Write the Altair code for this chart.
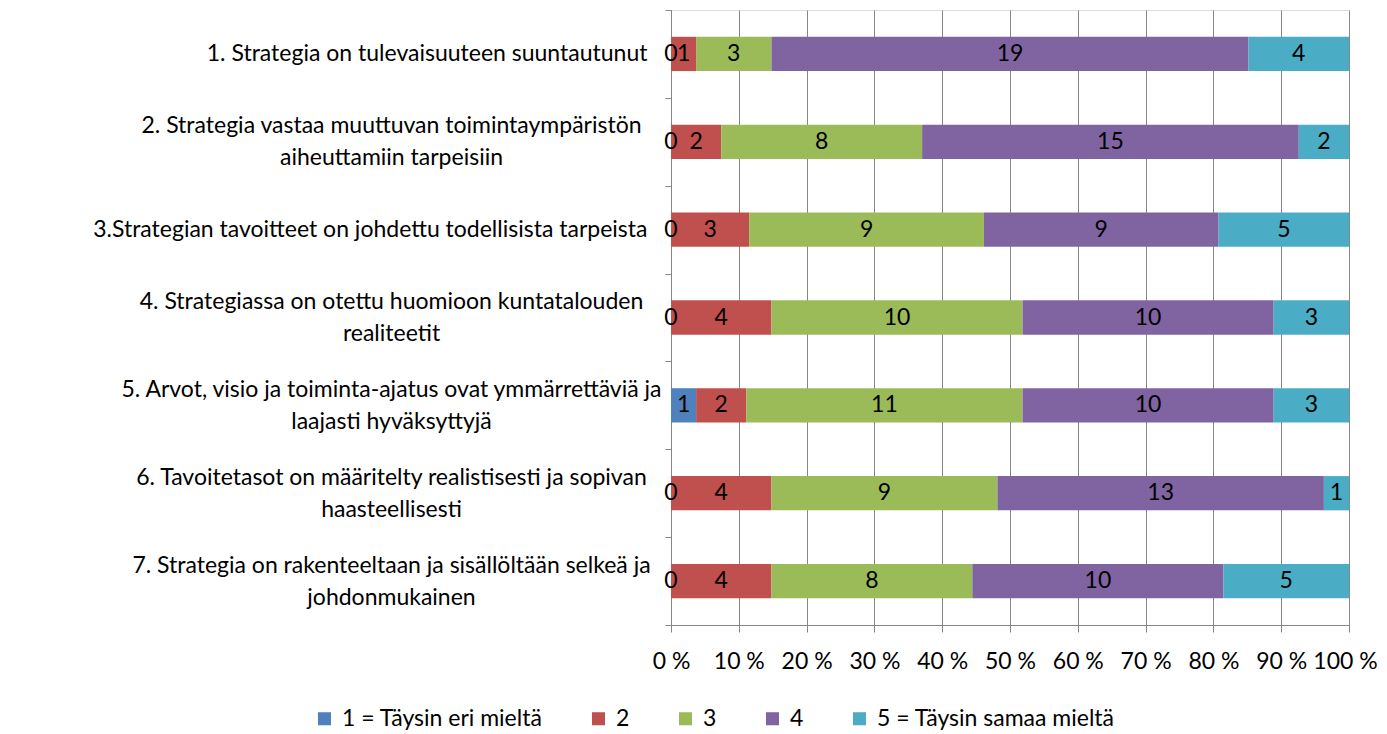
import altair as alt
import pandas as pd

categories = [
    "1. Strategia on tulevaisuuteen suuntautunut",
    "2. Strategia vastaa muuttuvan toimintaympäristön|aiheuttamiin tarpeisiin",
    "3.Strategian tavoitteet on johdettu todellisista tarpeista",
    "4. Strategiassa on otettu huomioon kuntatalouden|realiteetit",
    "5. Arvot, visio ja toiminta-ajatus ovat ymmärrettäviä ja|laajasti hyväksyttyjä",
    "6. Tavoitetasot on määritelty realistisesti ja sopivan|haasteellisesti",
    "7. Strategia on rakenteeltaan ja sisällöltään selkeä ja|johdonmukainen",
]
series = ["1 = Täysin eri mieltä", "2", "3", "4", "5 = Täysin samaa mieltä"]
s1 = [0, 0, 0, 0, 1, 0, 0]
s2 = [1, 2, 3, 4, 2, 4, 4]
s3 = [3, 8, 9, 10, 11, 9, 8]
s4 = [19, 15, 9, 10, 10, 13, 10]
s5 = [4, 2, 5, 3, 3, 1, 5]
colors = ["#4F81BD", "#C0504D", "#9BBB59", "#8064A2", "#4BACC6"]
x_ticks = [0, 0.1, 0.2, 0.3, 0.4, 0.5, 0.6, 0.7, 0.8, 0.9, 1.0]

rows = []
for si, (name, vals) in enumerate(zip(series, [s1, s2, s3, s4, s5])):
    for cat, v in zip(categories, vals):
        rows.append({"category": cat, "series": name, "order": si, "value": v})
df = pd.DataFrame(rows)

FONT = "Lato"
FS = 23
GRID = "#868686"
BASE_PAD = 18
MULTI_PAD = 18 + 256  # two-line labels are centred as a block
multi_test = "indexof(datum.label, '|') >= 0"

y_enc = alt.Y(
    "category:N",
    sort=categories,
    title=None,
    scale=alt.Scale(paddingInner=0, paddingOuter=0),
    axis=alt.Axis(
        labelExpr="split(datum.label, '|')",
        labelFont=FONT,
        labelFontSize=FS,
        labelColor="black",
        labelLineHeight=32,
        labelPadding={"condition": {"test": multi_test, "value": MULTI_PAD}, "value": BASE_PAD},
        labelAlign={"condition": {"test": multi_test, "value": "center"}, "value": "right"},
        labelOffset={"condition": {"test": multi_test, "value": -16}, "value": 0},
        labelLimit=0,
        tickBand="extent",
        tickSize=6,
        tickColor=GRID,
        domainColor=GRID,
        grid=False,
    ),
)

base = alt.Chart(df)

bars = base.mark_bar(height=alt.RelativeBandSize(0.39)).encode(
    x=alt.X(
        "value:Q",
        stack="normalize",
        title=None,
        scale=alt.Scale(domain=[0, 1], nice=False),
        axis=alt.Axis(
            values=x_ticks,
            labelExpr="round(datum.value*100) + ' %'",
            labelFont=FONT,
            labelFontSize=FS,
            labelColor="black",
            labelPadding=18,
            labelOffset={"condition": {"test": "datum.value === 1", "value": -4}, "value": 0},
            tickSize=7,
            tickColor=GRID,
            domainColor=GRID,
            grid=True,
            gridColor=GRID,
            gridOpacity=1,
            labelFlush=False,
        ),
    ),
    y=y_enc,
    color=alt.Color(
        "series:N",
        sort=series,
        scale=alt.Scale(domain=series, range=colors),
        legend=alt.Legend(
            title=None,
            orient="none",
            direction="horizontal",
            legendX=-358,
            legendY=697,
            symbolType="square",
            symbolSize=170,
            symbolStrokeWidth=0,
            labelFont=FONT,
            labelFontSize=FS,
            labelColor="black",
            labelLimit=0,
            columnPadding=44,
            labelOffset=6,
            padding=0,
        ),
    ),
    order=alt.Order("order:Q"),
)

labels = (
    base.transform_joinaggregate(total="sum(value)", groupby=["category"])
    .transform_window(
        cum="sum(value)",
        sort=[alt.SortField("order")],
        groupby=["category"],
        frame=[None, 0],
    )
    .transform_calculate(mid="(datum.cum - datum.value/2)/datum.total")
    .mark_text(font=FONT, fontSize=FS, color="black", baseline="middle", align="center")
    .encode(
        x=alt.X("mid:Q"),
        y=alt.Y("category:N", sort=categories),
        text=alt.Text("value:Q"),
    )
)

chart = (
    alt.layer(bars, labels)
    .properties(
        width=678,
        height=615,
        autosize=alt.AutoSizeParams(type="none"),
        padding={"left": 663, "top": 2, "right": 30, "bottom": 107},
    )
    .configure_view(stroke=None)
    .configure(background="white")
)

chart.save("out.html", embed_options={"renderer": "svg", "actions": False})
